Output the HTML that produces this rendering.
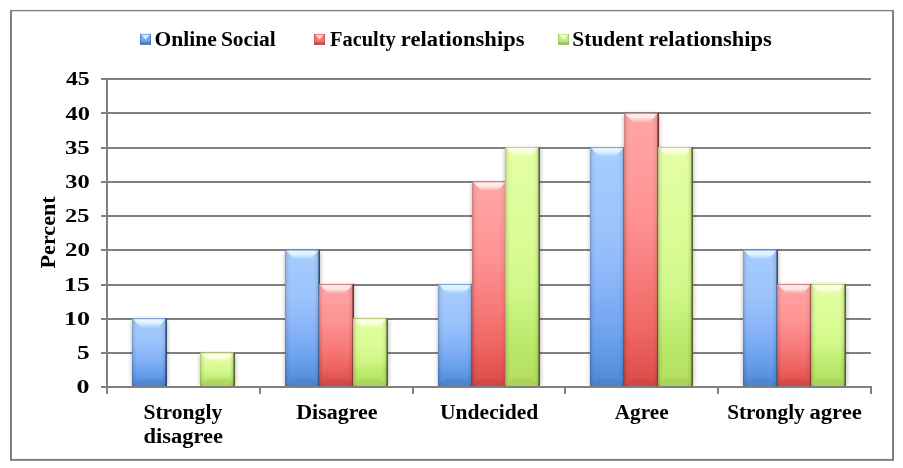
<!DOCTYPE html>
<html lang="en"><head><meta charset="utf-8"><title>Chart</title>
<style>html,body{margin:0;padding:0;background:#fff;}body{width:903px;height:468px;overflow:hidden;}svg{display:block;}</style></head><body>
<svg width="903" height="468" viewBox="0 0 903 468">
<defs>
<linearGradient id="gb" x1="0" y1="0" x2="0" y2="1"><stop offset="0" stop-color="#a6cdff"/><stop offset="0.35" stop-color="#9cc4fc"/><stop offset="0.6" stop-color="#86b2f8"/><stop offset="0.8" stop-color="#6aa2ec"/><stop offset="1" stop-color="#4e88d8"/></linearGradient>
<linearGradient id="gr" x1="0" y1="0" x2="0" y2="1"><stop offset="0" stop-color="#ffa6a6"/><stop offset="0.35" stop-color="#ff9494"/><stop offset="0.6" stop-color="#f87c7c"/><stop offset="0.8" stop-color="#ee6662"/><stop offset="1" stop-color="#dc4a48"/></linearGradient>
<linearGradient id="gg" x1="0" y1="0" x2="0" y2="1"><stop offset="0" stop-color="#e4fea4"/><stop offset="0.35" stop-color="#dcfc98"/><stop offset="0.6" stop-color="#d0f888"/><stop offset="0.8" stop-color="#bcea6e"/><stop offset="1" stop-color="#b2de5e"/></linearGradient>
<linearGradient id="hlb" x1="0" y1="0" x2="0" y2="1"><stop offset="0" stop-color="#e8f8ff" stop-opacity="0.2"/><stop offset="0.14" stop-color="#e8f8ff" stop-opacity="0.96"/><stop offset="0.45" stop-color="#e8f8ff" stop-opacity="0.88"/><stop offset="0.8" stop-color="#e8f8ff" stop-opacity="0.35"/><stop offset="1" stop-color="#e8f8ff" stop-opacity="0.05"/></linearGradient>
<linearGradient id="hlr" x1="0" y1="0" x2="0" y2="1"><stop offset="0" stop-color="#fff2f2" stop-opacity="0.2"/><stop offset="0.14" stop-color="#fff2f2" stop-opacity="0.96"/><stop offset="0.45" stop-color="#fff2f2" stop-opacity="0.88"/><stop offset="0.8" stop-color="#fff2f2" stop-opacity="0.35"/><stop offset="1" stop-color="#fff2f2" stop-opacity="0.05"/></linearGradient>
<linearGradient id="hlg" x1="0" y1="0" x2="0" y2="1"><stop offset="0" stop-color="#ffffe6" stop-opacity="0.2"/><stop offset="0.14" stop-color="#ffffe6" stop-opacity="0.96"/><stop offset="0.45" stop-color="#ffffe6" stop-opacity="0.88"/><stop offset="0.8" stop-color="#ffffe6" stop-opacity="0.35"/><stop offset="1" stop-color="#ffffe6" stop-opacity="0.05"/></linearGradient>
<filter id="bl2" x="-20%" y="-20%" width="140%" height="140%"><feGaussianBlur stdDeviation="0.35"/></filter>
<filter id="bl" x="-10%" y="-30%" width="120%" height="160%"><feGaussianBlur stdDeviation="0.5"/></filter>
<linearGradient id="edR" x1="0" y1="0" x2="1" y2="0"><stop offset="0" stop-color="#000" stop-opacity="0"/><stop offset="0.55" stop-color="#000" stop-opacity="0.08"/><stop offset="1" stop-color="#000" stop-opacity="0.42"/></linearGradient>
<linearGradient id="edL" x1="0" y1="0" x2="1" y2="0"><stop offset="0" stop-color="#000" stop-opacity="0.24"/><stop offset="0.4" stop-color="#000" stop-opacity="0.07"/><stop offset="1" stop-color="#000" stop-opacity="0"/></linearGradient>
<filter id="sh" x="-30%" y="-10%" width="160%" height="120%"><feGaussianBlur stdDeviation="2.9"/></filter>
</defs>
<rect x="0" y="0" width="903" height="468" fill="#fff"/>
<rect x="10" y="10" width="2" height="450.9" fill="#808080"/>
<rect x="892" y="10" width="2" height="450.9" fill="#808080"/>
<rect x="10" y="9.95" width="884" height="1.35" fill="#808080"/>
<rect x="10" y="458.9" width="884" height="2" fill="#808080"/>
<line x1="101" y1="387.00" x2="871.0" y2="387.00" stroke="#808080" stroke-width="2"/>
<line x1="101" y1="353.00" x2="871.0" y2="353.00" stroke="#808080" stroke-width="2"/>
<line x1="101" y1="319.00" x2="871.0" y2="319.00" stroke="#808080" stroke-width="2"/>
<line x1="101" y1="285.00" x2="871.0" y2="285.00" stroke="#808080" stroke-width="2"/>
<line x1="101" y1="250.00" x2="871.0" y2="250.00" stroke="#808080" stroke-width="2"/>
<line x1="101" y1="216.00" x2="871.0" y2="216.00" stroke="#808080" stroke-width="2"/>
<line x1="101" y1="182.00" x2="871.0" y2="182.00" stroke="#808080" stroke-width="2"/>
<line x1="101" y1="148.00" x2="871.0" y2="148.00" stroke="#808080" stroke-width="2"/>
<line x1="101" y1="113.00" x2="871.0" y2="113.00" stroke="#808080" stroke-width="2"/>
<line x1="101" y1="79.00" x2="871.0" y2="79.00" stroke="#808080" stroke-width="2"/>
<clipPath id="cp"><rect x="100" y="60" width="790" height="326"/></clipPath><g clip-path="url(#cp)">
<rect x="132.50" y="320.06" width="34.5" height="65.94" fill="#000" opacity="0.34" filter="url(#sh)"/>
<rect x="200.50" y="354.28" width="34.5" height="31.72" fill="#000" opacity="0.34" filter="url(#sh)"/>
<rect x="285.50" y="251.61" width="34.5" height="134.39" fill="#000" opacity="0.34" filter="url(#sh)"/>
<rect x="319.50" y="285.83" width="34.5" height="100.17" fill="#000" opacity="0.34" filter="url(#sh)"/>
<rect x="353.50" y="320.06" width="34.5" height="65.94" fill="#000" opacity="0.34" filter="url(#sh)"/>
<rect x="438.50" y="285.83" width="34.5" height="100.17" fill="#000" opacity="0.34" filter="url(#sh)"/>
<rect x="472.50" y="183.17" width="34.5" height="202.83" fill="#000" opacity="0.34" filter="url(#sh)"/>
<rect x="505.50" y="148.94" width="34.5" height="237.06" fill="#000" opacity="0.34" filter="url(#sh)"/>
<rect x="590.50" y="148.94" width="34.5" height="237.06" fill="#000" opacity="0.34" filter="url(#sh)"/>
<rect x="624.50" y="114.72" width="34.5" height="271.28" fill="#000" opacity="0.34" filter="url(#sh)"/>
<rect x="658.50" y="148.94" width="34.5" height="237.06" fill="#000" opacity="0.34" filter="url(#sh)"/>
<rect x="743.50" y="251.61" width="34.5" height="134.39" fill="#000" opacity="0.34" filter="url(#sh)"/>
<rect x="777.50" y="285.83" width="34.5" height="100.17" fill="#000" opacity="0.34" filter="url(#sh)"/>
<rect x="811.50" y="285.83" width="34.5" height="100.17" fill="#000" opacity="0.34" filter="url(#sh)"/>
</g>
<g>
<rect x="132.00" y="318.16" width="35.00" height="67.84" fill="url(#gb)"/>
<polygon points="132.50,318.76 166.20,318.76 157.50,327.66 141.50,327.66" fill="url(#hlb)" filter="url(#bl)"/>
<polygon points="132.00,386.00 167.00,386.00 159.60,378.60 139.40,378.60" fill="#2e5c9e" opacity="0.12"/>
<rect x="161.00" y="318.16" width="6" height="67.84" fill="url(#edR)"/>
<rect x="165.50" y="318.16" width="1.5" height="67.84" fill="#2c4470" opacity="0.85"/>
<rect x="132.00" y="318.16" width="5" height="67.84" fill="url(#edL)"/>
<rect x="132.00" y="318.16" width="35.00" height="0.9" fill="#2e5c9e" opacity="0.35"/>
</g>
<g>
<rect x="200.00" y="352.38" width="35.00" height="33.62" fill="url(#gg)"/>
<polygon points="200.50,352.98 234.20,352.98 225.50,361.88 209.50,361.88" fill="url(#hlg)" filter="url(#bl)"/>
<polygon points="200.00,386.00 235.00,386.00 227.60,378.60 207.40,378.60" fill="#6f8f2c" opacity="0.12"/>
<rect x="229.00" y="352.38" width="6" height="33.62" fill="url(#edR)"/>
<rect x="233.50" y="352.38" width="1.5" height="33.62" fill="#4c5e1c" opacity="0.85"/>
<rect x="200.00" y="352.38" width="5" height="33.62" fill="url(#edL)"/>
<rect x="200.00" y="352.38" width="35.00" height="0.9" fill="#6f8f2c" opacity="0.35"/>
</g>
<g>
<rect x="285.00" y="249.71" width="35.00" height="136.29" fill="url(#gb)"/>
<polygon points="285.50,250.31 319.20,250.31 310.50,259.21 294.50,259.21" fill="url(#hlb)" filter="url(#bl)"/>
<polygon points="285.00,386.00 320.00,386.00 312.60,378.60 292.40,378.60" fill="#2e5c9e" opacity="0.12"/>
<rect x="314.00" y="249.71" width="6" height="136.29" fill="url(#edR)"/>
<rect x="318.50" y="249.71" width="1.5" height="136.29" fill="#2c4470" opacity="0.85"/>
<rect x="285.00" y="249.71" width="5" height="136.29" fill="url(#edL)"/>
<rect x="285.00" y="249.71" width="35.00" height="0.9" fill="#2e5c9e" opacity="0.35"/>
</g>
<g>
<rect x="319.00" y="283.93" width="35.00" height="102.07" fill="url(#gr)"/>
<polygon points="319.50,284.53 353.20,284.53 344.50,293.43 328.50,293.43" fill="url(#hlr)" filter="url(#bl)"/>
<polygon points="319.00,386.00 354.00,386.00 346.60,378.60 326.40,378.60" fill="#9c2a28" opacity="0.12"/>
<rect x="348.00" y="283.93" width="6" height="102.07" fill="url(#edR)"/>
<rect x="352.50" y="283.93" width="1.5" height="102.07" fill="#6e2422" opacity="0.85"/>
<rect x="319.00" y="283.93" width="5" height="102.07" fill="url(#edL)"/>
<rect x="319.00" y="283.93" width="35.00" height="0.9" fill="#9c2a28" opacity="0.35"/>
</g>
<g>
<rect x="353.00" y="318.16" width="35.00" height="67.84" fill="url(#gg)"/>
<polygon points="353.50,318.76 387.20,318.76 378.50,327.66 362.50,327.66" fill="url(#hlg)" filter="url(#bl)"/>
<polygon points="353.00,386.00 388.00,386.00 380.60,378.60 360.40,378.60" fill="#6f8f2c" opacity="0.12"/>
<rect x="382.00" y="318.16" width="6" height="67.84" fill="url(#edR)"/>
<rect x="386.50" y="318.16" width="1.5" height="67.84" fill="#4c5e1c" opacity="0.85"/>
<rect x="353.00" y="318.16" width="5" height="67.84" fill="url(#edL)"/>
<rect x="353.00" y="318.16" width="35.00" height="0.9" fill="#6f8f2c" opacity="0.35"/>
</g>
<g>
<rect x="438.00" y="283.93" width="35.00" height="102.07" fill="url(#gb)"/>
<polygon points="438.50,284.53 472.20,284.53 463.50,293.43 447.50,293.43" fill="url(#hlb)" filter="url(#bl)"/>
<polygon points="438.00,386.00 473.00,386.00 465.60,378.60 445.40,378.60" fill="#2e5c9e" opacity="0.12"/>
<rect x="467.00" y="283.93" width="6" height="102.07" fill="url(#edR)"/>
<rect x="471.50" y="283.93" width="1.5" height="102.07" fill="#2c4470" opacity="0.85"/>
<rect x="438.00" y="283.93" width="5" height="102.07" fill="url(#edL)"/>
<rect x="438.00" y="283.93" width="35.00" height="0.9" fill="#2e5c9e" opacity="0.35"/>
</g>
<g>
<rect x="472.00" y="181.27" width="35.00" height="204.73" fill="url(#gr)"/>
<polygon points="472.50,181.87 506.20,181.87 497.50,190.77 481.50,190.77" fill="url(#hlr)" filter="url(#bl)"/>
<polygon points="472.00,386.00 507.00,386.00 499.60,378.60 479.40,378.60" fill="#9c2a28" opacity="0.12"/>
<rect x="501.00" y="181.27" width="6" height="204.73" fill="url(#edR)"/>
<rect x="505.50" y="181.27" width="1.5" height="204.73" fill="#6e2422" opacity="0.85"/>
<rect x="472.00" y="181.27" width="5" height="204.73" fill="url(#edL)"/>
<rect x="472.00" y="181.27" width="35.00" height="0.9" fill="#9c2a28" opacity="0.35"/>
</g>
<g>
<rect x="505.00" y="147.04" width="35.00" height="238.96" fill="url(#gg)"/>
<polygon points="505.50,147.64 539.20,147.64 530.50,156.54 514.50,156.54" fill="url(#hlg)" filter="url(#bl)"/>
<polygon points="505.00,386.00 540.00,386.00 532.60,378.60 512.40,378.60" fill="#6f8f2c" opacity="0.12"/>
<rect x="534.00" y="147.04" width="6" height="238.96" fill="url(#edR)"/>
<rect x="538.50" y="147.04" width="1.5" height="238.96" fill="#4c5e1c" opacity="0.85"/>
<rect x="505.00" y="147.04" width="5" height="238.96" fill="url(#edL)"/>
<rect x="505.00" y="147.04" width="35.00" height="0.9" fill="#6f8f2c" opacity="0.35"/>
</g>
<g>
<rect x="590.00" y="147.04" width="35.00" height="238.96" fill="url(#gb)"/>
<polygon points="590.50,147.64 624.20,147.64 615.50,156.54 599.50,156.54" fill="url(#hlb)" filter="url(#bl)"/>
<polygon points="590.00,386.00 625.00,386.00 617.60,378.60 597.40,378.60" fill="#2e5c9e" opacity="0.12"/>
<rect x="619.00" y="147.04" width="6" height="238.96" fill="url(#edR)"/>
<rect x="623.50" y="147.04" width="1.5" height="238.96" fill="#2c4470" opacity="0.85"/>
<rect x="590.00" y="147.04" width="5" height="238.96" fill="url(#edL)"/>
<rect x="590.00" y="147.04" width="35.00" height="0.9" fill="#2e5c9e" opacity="0.35"/>
</g>
<g>
<rect x="624.00" y="112.82" width="35.00" height="273.18" fill="url(#gr)"/>
<polygon points="624.50,113.42 658.20,113.42 649.50,122.32 633.50,122.32" fill="url(#hlr)" filter="url(#bl)"/>
<polygon points="624.00,386.00 659.00,386.00 651.60,378.60 631.40,378.60" fill="#9c2a28" opacity="0.12"/>
<rect x="653.00" y="112.82" width="6" height="273.18" fill="url(#edR)"/>
<rect x="657.50" y="112.82" width="1.5" height="273.18" fill="#6e2422" opacity="0.85"/>
<rect x="624.00" y="112.82" width="5" height="273.18" fill="url(#edL)"/>
<rect x="624.00" y="112.82" width="35.00" height="0.9" fill="#9c2a28" opacity="0.35"/>
</g>
<g>
<rect x="658.00" y="147.04" width="35.00" height="238.96" fill="url(#gg)"/>
<polygon points="658.50,147.64 692.20,147.64 683.50,156.54 667.50,156.54" fill="url(#hlg)" filter="url(#bl)"/>
<polygon points="658.00,386.00 693.00,386.00 685.60,378.60 665.40,378.60" fill="#6f8f2c" opacity="0.12"/>
<rect x="687.00" y="147.04" width="6" height="238.96" fill="url(#edR)"/>
<rect x="691.50" y="147.04" width="1.5" height="238.96" fill="#4c5e1c" opacity="0.85"/>
<rect x="658.00" y="147.04" width="5" height="238.96" fill="url(#edL)"/>
<rect x="658.00" y="147.04" width="35.00" height="0.9" fill="#6f8f2c" opacity="0.35"/>
</g>
<g>
<rect x="743.00" y="249.71" width="35.00" height="136.29" fill="url(#gb)"/>
<polygon points="743.50,250.31 777.20,250.31 768.50,259.21 752.50,259.21" fill="url(#hlb)" filter="url(#bl)"/>
<polygon points="743.00,386.00 778.00,386.00 770.60,378.60 750.40,378.60" fill="#2e5c9e" opacity="0.12"/>
<rect x="772.00" y="249.71" width="6" height="136.29" fill="url(#edR)"/>
<rect x="776.50" y="249.71" width="1.5" height="136.29" fill="#2c4470" opacity="0.85"/>
<rect x="743.00" y="249.71" width="5" height="136.29" fill="url(#edL)"/>
<rect x="743.00" y="249.71" width="35.00" height="0.9" fill="#2e5c9e" opacity="0.35"/>
</g>
<g>
<rect x="777.00" y="283.93" width="35.00" height="102.07" fill="url(#gr)"/>
<polygon points="777.50,284.53 811.20,284.53 802.50,293.43 786.50,293.43" fill="url(#hlr)" filter="url(#bl)"/>
<polygon points="777.00,386.00 812.00,386.00 804.60,378.60 784.40,378.60" fill="#9c2a28" opacity="0.12"/>
<rect x="806.00" y="283.93" width="6" height="102.07" fill="url(#edR)"/>
<rect x="810.50" y="283.93" width="1.5" height="102.07" fill="#6e2422" opacity="0.85"/>
<rect x="777.00" y="283.93" width="5" height="102.07" fill="url(#edL)"/>
<rect x="777.00" y="283.93" width="35.00" height="0.9" fill="#9c2a28" opacity="0.35"/>
</g>
<g>
<rect x="811.00" y="283.93" width="35.00" height="102.07" fill="url(#gg)"/>
<polygon points="811.50,284.53 845.20,284.53 836.50,293.43 820.50,293.43" fill="url(#hlg)" filter="url(#bl)"/>
<polygon points="811.00,386.00 846.00,386.00 838.60,378.60 818.40,378.60" fill="#6f8f2c" opacity="0.12"/>
<rect x="840.00" y="283.93" width="6" height="102.07" fill="url(#edR)"/>
<rect x="844.50" y="283.93" width="1.5" height="102.07" fill="#4c5e1c" opacity="0.85"/>
<rect x="811.00" y="283.93" width="5" height="102.07" fill="url(#edL)"/>
<rect x="811.00" y="283.93" width="35.00" height="0.9" fill="#6f8f2c" opacity="0.35"/>
</g>
<line x1="107.0" y1="78.0" x2="107.0" y2="394" stroke="#808080" stroke-width="2"/>
<line x1="101" y1="387.0" x2="872.0" y2="387.0" stroke="#808080" stroke-width="2"/>
<line x1="260.00" y1="387.0" x2="260.00" y2="394" stroke="#808080" stroke-width="2"/>
<line x1="413.00" y1="387.0" x2="413.00" y2="394" stroke="#808080" stroke-width="2"/>
<line x1="565.00" y1="387.0" x2="565.00" y2="394" stroke="#808080" stroke-width="2"/>
<line x1="718.00" y1="387.0" x2="718.00" y2="394" stroke="#808080" stroke-width="2"/>
<line x1="871.00" y1="387.0" x2="871.00" y2="394" stroke="#808080" stroke-width="2"/>
<text x="76.63" y="393.3" font-family="Liberation Serif, serif" font-weight="bold" font-size="18.8" textLength="12.98" lengthAdjust="spacingAndGlyphs" fill="#000">0</text>
<text x="77.09" y="359.1" font-family="Liberation Serif, serif" font-weight="bold" font-size="18.8" textLength="12.64" lengthAdjust="spacingAndGlyphs" fill="#000">5</text>
<text x="63.94" y="324.9" font-family="Liberation Serif, serif" font-weight="bold" font-size="18.8" textLength="26.0" lengthAdjust="spacingAndGlyphs" fill="#000">10</text>
<text x="63.99" y="290.6" font-family="Liberation Serif, serif" font-weight="bold" font-size="18.8" textLength="25.91" lengthAdjust="spacingAndGlyphs" fill="#000">15</text>
<text x="65.09" y="256.4" font-family="Liberation Serif, serif" font-weight="bold" font-size="18.8" textLength="24.81" lengthAdjust="spacingAndGlyphs" fill="#000">20</text>
<text x="65.09" y="222.2" font-family="Liberation Serif, serif" font-weight="bold" font-size="18.8" textLength="24.38" lengthAdjust="spacingAndGlyphs" fill="#000">25</text>
<text x="65.35" y="188.0" font-family="Liberation Serif, serif" font-weight="bold" font-size="18.8" textLength="24.45" lengthAdjust="spacingAndGlyphs" fill="#000">30</text>
<text x="64.96" y="153.7" font-family="Liberation Serif, serif" font-weight="bold" font-size="18.8" textLength="24.81" lengthAdjust="spacingAndGlyphs" fill="#000">35</text>
<text x="65.49" y="119.5" font-family="Liberation Serif, serif" font-weight="bold" font-size="18.8" textLength="24.43" lengthAdjust="spacingAndGlyphs" fill="#000">40</text>
<text x="65.91" y="85.3" font-family="Liberation Serif, serif" font-weight="bold" font-size="18.8" textLength="23.79" lengthAdjust="spacingAndGlyphs" fill="#000">45</text>
<text transform="translate(55.3,232.4) rotate(-90)" text-anchor="middle" font-family="Liberation Serif, serif" font-weight="bold" font-size="20" textLength="72" lengthAdjust="spacingAndGlyphs" fill="#000">Percent</text>
<text x="143.43" y="419.2" font-family="Liberation Serif, serif" font-weight="bold" font-size="20" textLength="78.77" lengthAdjust="spacingAndGlyphs" fill="#000">Strongly</text>
<text x="143.51" y="442.8" font-family="Liberation Serif, serif" font-weight="bold" font-size="20" textLength="79.53" lengthAdjust="spacingAndGlyphs" fill="#000">disagree</text>
<text x="296.18" y="419.2" font-family="Liberation Serif, serif" font-weight="bold" font-size="20" textLength="81.43" lengthAdjust="spacingAndGlyphs" fill="#000">Disagree</text>
<text x="440.06" y="419.2" font-family="Liberation Serif, serif" font-weight="bold" font-size="20" textLength="98.22" lengthAdjust="spacingAndGlyphs" fill="#000">Undecided</text>
<text x="614.74" y="419.2" font-family="Liberation Serif, serif" font-weight="bold" font-size="20" textLength="53.9" lengthAdjust="spacingAndGlyphs" fill="#000">Agree</text>
<text y="419.2" font-family="Liberation Serif, serif" font-weight="bold" font-size="20" fill="#000"><tspan x="727.18" textLength="77.52" lengthAdjust="spacingAndGlyphs">Strongly</tspan> <tspan x="809.42" textLength="52.47" lengthAdjust="spacingAndGlyphs">agree</tspan></text>
<g>
<linearGradient id="mbb" x1="0" y1="0" x2="0" y2="1"><stop offset="0" stop-color="#6c9de4"/><stop offset="0.55" stop-color="#78a8ec"/><stop offset="1" stop-color="#4f80c8"/></linearGradient>
<linearGradient id="mtb" x1="0" y1="0" x2="0" y2="1"><stop offset="0" stop-color="#c0e6ff"/><stop offset="1" stop-color="#f4ffff"/></linearGradient>
<rect x="140.05" y="33.9" width="10.95" height="10.95" fill="url(#mbb)"/>
<rect x="140.05" y="42.449999999999996" width="10.95" height="2.4" fill="#3f6db2" opacity="0.55"/>
<rect x="140.05" y="33.9" width="0.9" height="10.95" fill="#3c68aa" opacity="0.6"/>
<rect x="150.1" y="33.9" width="0.9" height="10.95" fill="#3c68aa" opacity="0.6"/>
<polygon points="141.05,34.8 150.0,34.8 145.525,39.5" fill="url(#mtb)" filter="url(#bl2)"/>
</g>
<text y="45.5" font-family="Liberation Serif, serif" font-weight="bold" font-size="20" fill="#000"><tspan x="154.47" textLength="62.42" lengthAdjust="spacingAndGlyphs">Online</tspan> <tspan x="220.9" textLength="54.89" lengthAdjust="spacingAndGlyphs">Social</tspan></text>
<g>
<linearGradient id="mbr" x1="0" y1="0" x2="0" y2="1"><stop offset="0" stop-color="#e86a6a"/><stop offset="0.55" stop-color="#f07c7c"/><stop offset="1" stop-color="#c85050"/></linearGradient>
<linearGradient id="mtr" x1="0" y1="0" x2="0" y2="1"><stop offset="0" stop-color="#ffc4c4"/><stop offset="1" stop-color="#fff4f4"/></linearGradient>
<rect x="314.05" y="33.9" width="10.95" height="10.95" fill="url(#mbr)"/>
<rect x="314.05" y="42.449999999999996" width="10.95" height="2.4" fill="#b04242" opacity="0.55"/>
<rect x="314.05" y="33.9" width="0.9" height="10.95" fill="#ac3c3c" opacity="0.6"/>
<rect x="324.1" y="33.9" width="0.9" height="10.95" fill="#ac3c3c" opacity="0.6"/>
<polygon points="315.05,34.8 324.0,34.8 319.52500000000003,39.5" fill="url(#mtr)" filter="url(#bl2)"/>
</g>
<text y="45.5" font-family="Liberation Serif, serif" font-weight="bold" font-size="20" fill="#000"><tspan x="330.08" textLength="65.69" lengthAdjust="spacingAndGlyphs">Faculty</tspan> <tspan x="400.86" textLength="123.62" lengthAdjust="spacingAndGlyphs">relationships</tspan></text>
<g>
<linearGradient id="mbg" x1="0" y1="0" x2="0" y2="1"><stop offset="0" stop-color="#bce878"/><stop offset="0.55" stop-color="#c8f088"/><stop offset="1" stop-color="#a0cc60"/></linearGradient>
<linearGradient id="mtg" x1="0" y1="0" x2="0" y2="1"><stop offset="0" stop-color="#f0ffd0"/><stop offset="1" stop-color="#fffff4"/></linearGradient>
<rect x="558.05" y="33.9" width="10.95" height="10.95" fill="url(#mbg)"/>
<rect x="558.05" y="42.449999999999996" width="10.95" height="2.4" fill="#8cb454" opacity="0.55"/>
<rect x="558.05" y="33.9" width="0.9" height="10.95" fill="#88b44c" opacity="0.6"/>
<rect x="568.1" y="33.9" width="0.9" height="10.95" fill="#88b44c" opacity="0.6"/>
<polygon points="559.05,34.8 568.0,34.8 563.525,39.5" fill="url(#mtg)" filter="url(#bl2)"/>
</g>
<text y="45.5" font-family="Liberation Serif, serif" font-weight="bold" font-size="20" fill="#000"><tspan x="572.35" textLength="71.45" lengthAdjust="spacingAndGlyphs">Student</tspan> <tspan x="648.74" textLength="123.03" lengthAdjust="spacingAndGlyphs">relationships</tspan></text>
</svg></body></html>
